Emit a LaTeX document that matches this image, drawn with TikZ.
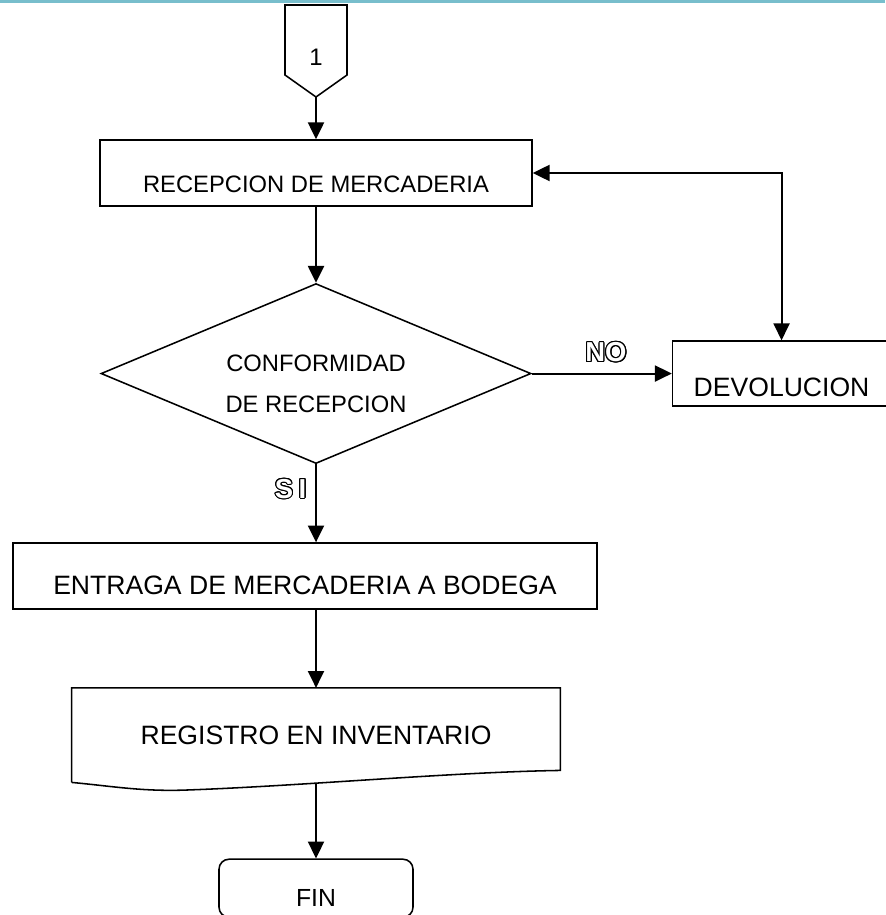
\documentclass[tikz,border=0pt]{standalone}
\usepackage{fontspec}
\setmainfont{Liberation Sans}
\usepackage[copies]{contour}
\usetikzlibrary{shapes,arrows.meta,positioning,calc}
\definecolor{topline}{RGB}{120,190,204}
\contourlength{0.8pt}

\begin{document}
\begin{tikzpicture}[auto, >={Triangle[length=4.2mm,width=4mm]}]
  % Styles
  \tikzstyle{box} = [draw, rectangle, line width=1.1pt, inner sep=0pt]
  \tikzstyle{decision} = [draw, diamond, aspect=2.39, line width=1.1pt, inner sep=0pt, align=center]
  \tikzstyle{docu} = [rectangle, inner sep=0pt]
  \tikzstyle{term} = [draw, rectangle, rounded corners=0.25cm, line width=1.1pt, inner sep=0pt]
  \tikzstyle{line} = [draw, ->, line width=1.4pt]
  \tikzstyle{small} = [font=\fontsize{16.9}{20}\selectfont]
  \tikzstyle{large} = [font=\fontsize{18.9}{22}\selectfont]
  \tikzstyle{answer} = [font=\bfseries\fontsize{19.5}{21}\selectfont]

  \useasboundingbox (0,0) rectangle (22.125,-22.875);
  \draw [topline, line width=2pt] (0,-0.035) -- (22.125,-0.035);

  % Off-page connector
  \draw [line width=1.1pt] (7.125,-0.125) -- (8.675,-0.125) -- (8.675,-1.875)
    -- (7.9,-2.425) -- (7.125,-1.875) -- cycle;
  \node [font=\fontsize{17}{20}\selectfont] (uno) at (7.9,-1.425) {1};
  \coordinate (tip) at (7.9,-2.425);

  % Nodes
  \node [box, small, minimum width=10.8cm, minimum height=1.65cm, text height=0.98cm, text depth=0pt]
    (rec) at (7.9,-4.325) {RECEPCION DE MERCADERIA};
  \node [decision, font=\fontsize{16.9}{29.1}\selectfont, minimum width=10.75cm, minimum height=4.5cm,
    text height=1.93cm, text depth=0pt, below=1.9cm of rec] (conf) {CONFORMIDAD\\DE RECEPCION};
  \node [box, large, minimum width=5.45cm, minimum height=1.625cm, text height=1.15cm, text depth=0pt,
    right=3.5cm of conf] (dev) {DEVOLUCION};
  \node [box, large, minimum width=14.6cm, minimum height=1.65cm, text height=0.93cm, text depth=0pt,
    below=1.95cm of conf, xshift=-0.275cm] (ent) {ENTRAGA DE MERCADERIA A BODEGA};
  \node [docu, large, minimum width=12.2cm, minimum height=2.35cm, text depth=0pt,
    below=1.95cm of ent, xshift=0.275cm] (reg) {REGISTRO EN INVENTARIO};
  \node [term, font=\fontsize{17.6}{20}\selectfont, minimum width=4.85cm, minimum height=1.45cm,
    text height=0.92cm, text depth=0pt, below=1.9cm of reg] (fin) {FIN};

  % Document outline
  \draw [line width=1.1pt] (reg.south west) -- (reg.north west) -- (reg.north east)
    -- ($(reg.south east)+(0,0.3)$)
    .. controls ($(reg.center)+(3.35,-0.925)$) and ($(reg.center)+(-0.4,-1.275)$) .. ($(reg.center)+(-3.325,-1.375)$)
    .. controls ($(reg.center)+(-4.4,-1.405)$) and ($(reg.center)+(-5.1,-1.275)$) .. (reg.south west);
  \coordinate (regb) at ($(reg.south)+(0,-0.05)$);

  % Connections
  \draw [line] (tip) -- (rec);
  \draw [line] (rec) -- (conf);
  \draw [line] (conf.east) -- node [answer, pos=0.53, above=0.12cm] {\contour{black}{\textcolor{white}{NO}}}
    (conf.east -| dev.west);
  \draw [line, <->] (rec.east) -| (dev.north);
  \draw [line] (conf.south) -- node [answer, pos=0.32, left=0.1cm] {\contour{black}{\textcolor{white}{S\kern4pt I}}}
    (conf.south |- ent.north);
  \draw [line] (ent.south -| reg.north) -- (reg.north);
  \draw [line] (regb) -- (fin.north);

\end{tikzpicture}
\end{document}
